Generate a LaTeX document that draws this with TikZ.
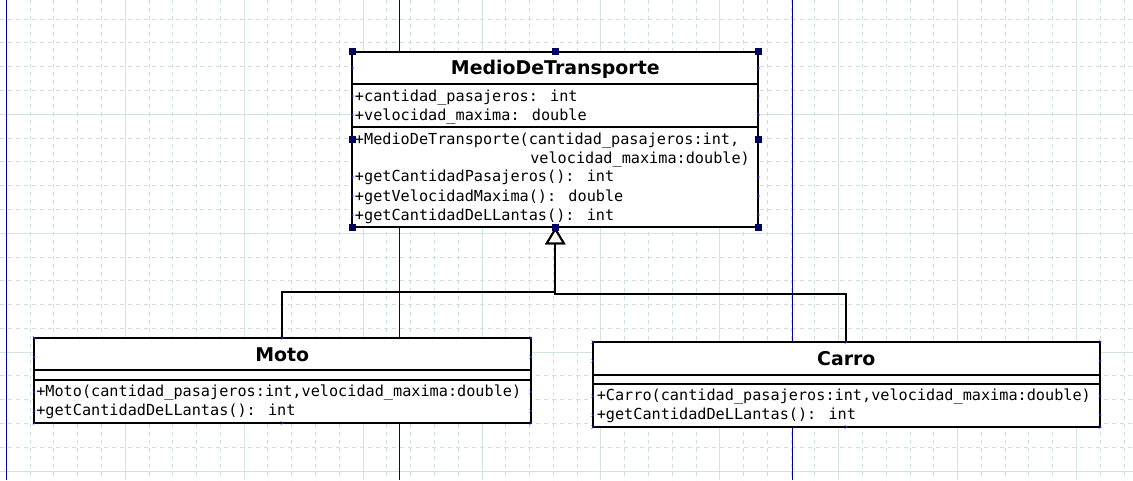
\documentclass[tikz,border=0pt]{standalone}
\usepackage{fontspec}
\setmainfont{DejaVu Sans}
\newfontfamily\monof{DejaVu Sans Mono}
\usetikzlibrary{arrows.meta}
\definecolor{gridc}{RGB}{208,222,218}
\definecolor{gridm}{RGB}{210,228,224}
\definecolor{pageb}{RGB}{0,0,170}
\definecolor{handlec}{RGB}{0,0,100}
\definecolor{markc}{RGB}{40,40,230}
\tikzset{
  umlbox/.style={draw=black, fill=white, line width=1.5pt, inner sep=0pt, outer sep=0pt, anchor=north west},
  divider/.style={draw=black, line width=1.5pt},
  member/.style={anchor=base west, inner sep=0pt, font=\monof\fontsize{11.4}{14}\selectfont},
  umltitle/.style={anchor=base, inner sep=0pt, font=\bfseries\fontsize{14.2}{17}\selectfont},
  conn/.style={draw=black, line width=1.5pt},
  gen/.style={-{Triangle[width=15pt,length=12.75pt,fill=white]}},
  minorgrid/.style={draw=gridc, line width=0.75pt, dash pattern=on 3pt off 3pt},
  majorgrid/.style={draw=gridm, line width=0.75pt},
  pageline/.style={draw=pageb, line width=0.8pt},
  handle/.style={fill=handlec},
  bmark/.style={draw=markc, line width=0.4pt}
}
\begin{document}
\begin{tikzpicture}[x=0.75pt,y=-0.75pt]
\useasboundingbox (0,0) rectangle (1133,480);
\fill[white] (0,0) rectangle (1133,480);
% grid
\foreach \k in {0,...,47}{
  \pgfmathsetmacro\xx{6.4+23.78*\k}
  \pgfmathtruncatemacro\mm{mod(\k,5)}
  \ifnum\mm=0
    \draw[majorgrid] (\xx,0) -- (\xx,480);
  \else
    \draw[minorgrid] (\xx,0) -- (\xx,480);
  \fi
}
\foreach \k in {0,...,19}{
  \pgfmathsetmacro\yy{19.2+23.78*\k}
  \pgfmathtruncatemacro\mm{mod(\k,5)}
  \ifnum\mm=4
    \draw[majorgrid] (0,\yy) -- (1133,\yy);
  \else
    \draw[minorgrid] (0,\yy) -- (1133,\yy);
  \fi
}
% page borders
\draw[pageline] (6.4,0) -- (6.4,480);
\draw[pageline] (399.3,0) -- (399.3,480);
\draw[pageline] (792.3,0) -- (792.3,480);

% boxes
\node[umlbox, minimum width=304.5pt, minimum height=131.7pt] (medio) at (352.3,51.7) {};
\node[umlbox, minimum width=372.5pt, minimum height=63.75pt] (moto) at (34,337.7) {};
\node[umlbox, minimum width=380.5pt, minimum height=63.75pt] (carro) at (592.7,341.7) {};

\draw[divider] (352.3,83.7) -- (758.3,83.7);
\draw[divider] (352.3,127) -- (758.3,127);
\draw[divider] (34,370.3) -- (530.7,370.3);
\draw[divider] (34,380.3) -- (530.7,380.3);
\draw[divider] (592.7,375) -- (1100,375);
\draw[divider] (592.7,383.7) -- (1100,383.7);

% texts
\node[umltitle] (medioT) at (555.3,74) {MedioDeTransporte};
\node[member] (mA1) at (354.7,101.7) {+cantidad\_pasajeros: int};
\node[member] (mA2) at (354.7,120.7) {+velocidad\_maxima: double};
\node[member] (mM1) at (354.7,144.3) {+MedioDeTransporte(cantidad\_pasajeros:int,};
\node[member] (mM1b) at (530,163.3) {velocidad\_maxima:double)};
\node[member] (mM2) at (354.7,181.7) {+getCantidadPasajeros(): int};
\node[member] (mM3) at (354.7,201) {+getVelocidadMaxima(): double};
\node[member] (mM4) at (354.7,220) {+getCantidadDeLLantas(): int};

\node[umltitle] (motoT) at (282.3,361) {Moto};
\node[member] (oM1) at (36,396.7) {+Moto(cantidad\_pasajeros:int,velocidad\_maxima:double)};
\node[member] (oM2) at (36,415.7) {+getCantidadDeLLantas(): int};

\node[umltitle] (carroT) at (846.3,365) {Carro};
\node[member] (cM1) at (596.5,400.7) {+Carro(cantidad\_pasajeros:int,velocidad\_maxima:double)};
\node[member] (cM2) at (596.5,419.3) {+getCantidadDeLLantas(): int};

% connectors (generalisation)
\coordinate (j1) at (555.3,292);
\coordinate (j2) at (555.3,294);
\draw[conn, gen] (moto.north) |- (j1) -- (medio.south);
\draw[conn, gen] (carro.north) |- (j2) -- (medio.south);

% selection handles
\foreach \a in {north west,north,north east,west,east,south west,south,south east}{
  \fill[handle] (medio.\a) +(-3.5,-3.5) rectangle +(3.5,3.5);
}

% tiny connection marks
\foreach \p in {(352.3,68),(352.3,96),(352.3,115),(352.3,177),(352.3,196),(352.3,215),
                (758.3,68),(758.3,96),(758.3,115),(758.3,177),(758.3,196),(758.3,215),
                (34,338),(34,357),(34,392),(34,411),(34,423),
                (530.7,338),(530.7,357),(530.7,392),(530.7,411),(530.7,423),
                (282,338),(282,423),
                (592.7,342),(592.7,361),(592.7,396),(592.7,415),(592.7,427),
                (1100,342),(1100,361),(1100,396),(1100,415),(1100,427),
                (846,342),(846,427)}{
  \draw[bmark] \p +(-1.2,-1.5) -- +(1.2,0) -- +(-1.2,1.5);
}
\end{tikzpicture}
\end{document}
